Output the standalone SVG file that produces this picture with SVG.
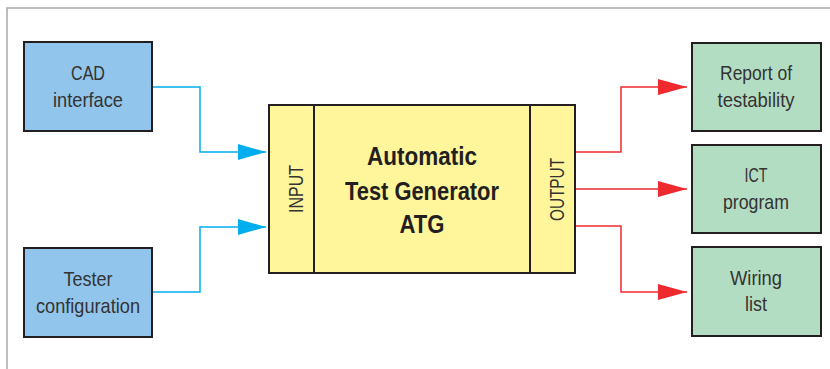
<svg xmlns="http://www.w3.org/2000/svg" width="830" height="369" viewBox="0 0 830 369">
<defs>
<style>
.box{stroke:#231f20;stroke-width:2}
.blue{fill:#92c5eb}
.green{fill:#b3ddc2}
.yellow{fill:#fff69c}
.t{font-family:"Liberation Sans",Arial,sans-serif;font-size:21px;fill:#333;text-anchor:middle}
.b{font-family:"Liberation Sans",Arial,sans-serif;font-size:25.5px;font-weight:bold;fill:#231f20;text-anchor:middle}
.c{fill:none;stroke:#00aeef;stroke-width:1.5}
.r{fill:none;stroke:#ee2a2f;stroke-width:1.5}
</style>
<marker id="ab" markerWidth="28" markerHeight="16" refX="28" refY="8" orient="auto" markerUnits="userSpaceOnUse"><path d="M0,0 L28,8 L0,16 Z" fill="#00aeef"/></marker>
<marker id="ar" markerWidth="29" markerHeight="16" refX="29" refY="8" orient="auto" markerUnits="userSpaceOnUse"><path d="M0,0 L29,8 L0,16 Z" fill="#ee2a2f"/></marker>
</defs>
<rect width="830" height="369" fill="#fff"/>
<path d="M7,369 V8 H830" fill="none" stroke="#a7a9ac" stroke-width="1.5"/>
<g id="connectors">
<path class="c" d="M152,87 H200 V152 H266" marker-end="url(#ab)"/>
<path class="c" d="M152,292 H200 V227 H266" marker-end="url(#ab)"/>
<path class="r" d="M575,152 H621 V87 H687" marker-end="url(#ar)"/>
<path class="r" d="M575,189 H687" marker-end="url(#ar)"/>
<path class="r" d="M575,226 H621 V292 H687" marker-end="url(#ar)"/>
</g>
<g id="cad">
<rect class="box blue" x="24" y="42" width="128" height="89"/>
<text class="t" x="88" y="80" textLength="34" lengthAdjust="spacingAndGlyphs">CAD</text>
<text class="t" x="88" y="107" textLength="70" lengthAdjust="spacingAndGlyphs">interface</text>
</g>
<g id="tester">
<rect class="box blue" x="24" y="248" width="128" height="89"/>
<text class="t" x="88" y="286" textLength="49" lengthAdjust="spacingAndGlyphs">Tester</text>
<text class="t" x="88" y="313" textLength="104" lengthAdjust="spacingAndGlyphs">configuration</text>
</g>
<g id="atg">
<rect class="box yellow" x="269" y="105" width="306" height="168"/>
<line x1="314" y1="105" x2="314" y2="273" stroke="#231f20" stroke-width="2"/>
<line x1="530" y1="105" x2="530" y2="273" stroke="#231f20" stroke-width="2"/>
<text class="b" x="422" y="165" textLength="110" lengthAdjust="spacingAndGlyphs">Automatic</text>
<text class="b" x="422" y="200" textLength="154" lengthAdjust="spacingAndGlyphs">Test Generator</text>
<text class="b" x="422" y="233" textLength="45" lengthAdjust="spacingAndGlyphs">ATG</text>
</g>
<g id="input">
<text class="t" transform="translate(303,189) rotate(-90)" textLength="48" lengthAdjust="spacingAndGlyphs">INPUT</text>
</g>
<g id="output">
<text class="t" transform="translate(564,189.5) rotate(-90)" textLength="63" lengthAdjust="spacingAndGlyphs">OUTPUT</text>
</g>
<g id="report">
<rect class="box green" x="692" y="43" width="129" height="88"/>
<text class="t" x="756" y="80" textLength="72" lengthAdjust="spacingAndGlyphs">Report of</text>
<text class="t" x="756" y="107" textLength="77" lengthAdjust="spacingAndGlyphs">testability</text>
</g>
<g id="ict">
<rect class="box green" x="692" y="145" width="129" height="88"/>
<text class="t" x="756" y="182" textLength="23" lengthAdjust="spacingAndGlyphs">ICT</text>
<text class="t" x="756" y="209" textLength="66" lengthAdjust="spacingAndGlyphs">program</text>
</g>
<g id="wiring">
<rect class="box green" x="692" y="247" width="129" height="89"/>
<text class="t" x="756" y="285" textLength="52" lengthAdjust="spacingAndGlyphs">Wiring</text>
<text class="t" x="756" y="311" textLength="22" lengthAdjust="spacingAndGlyphs">list</text>
</g>
</svg>
